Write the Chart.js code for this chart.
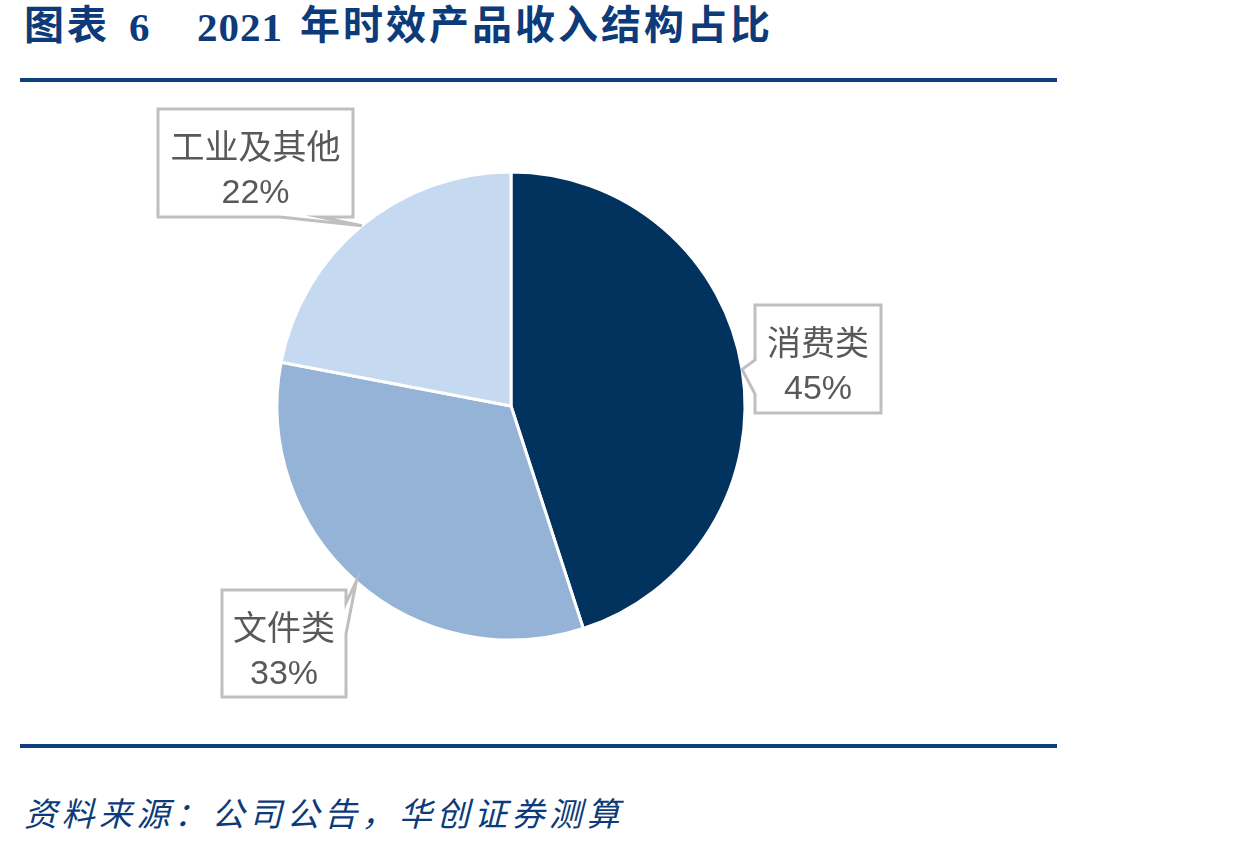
<!DOCTYPE html>
<html>
<head>
<meta charset="utf-8">
<script src="https://cdn.jsdelivr.net/npm/chart.js@4.4.1/dist/chart.umd.min.js"></script>
<style>
  html, body { margin: 0; padding: 0; background: #fff; }
  #wrap { position: relative; width: 1233px; height: 848px; overflow: hidden; }
  .tt { position: absolute; top: 3px; white-space: nowrap; line-height: 50px;
    font-family: "Liberation Serif", "Noto Sans CJK SC", serif; font-weight: bold;
    font-size: 40px; color: #0D3B7A; }
  .tt.cn { letter-spacing: 3px; top: 1px; }
  .tt.num { letter-spacing: 1px; font-size: 41px; top: 2px; }
  .rule { position: absolute; left: 20px; width: 1037px; height: 4px; background: #0E3F80; }
  #footer { position: absolute; left: 24px; top: 788px; white-space: nowrap;
    font-family: "Noto Sans CJK SC", sans-serif; font-style: italic; font-weight: normal;
    font-size: 33px; color: #0D3B7A; letter-spacing: 4.5px; }
  canvas { position: absolute; left: 0; top: 0; }
</style>
</head>
<body>
<div id="wrap">
  <span class="tt cn" style="left:24px">图表</span>
  <span class="tt num" style="left:129px">6</span>
  <span class="tt num" style="left:197px">2021</span>
  <span class="tt cn" style="left:300px">年时效产品收入结构占比</span>
  <div class="rule" style="top:78px"></div>
  <div class="rule" style="top:744px"></div>
  <div id="footer">资料来源：公司公告，华创证券测算</div>
  <canvas id="c" width="1233" height="848"></canvas>
</div>
<script>
const categories = ["消费类", "文件类", "工业及其他"];
const shares = [45, 33, 22];
const sliceColors = ["#02335F", "#95B3D7", "#C5D9F1"];

// callout boxes (left, top, right, bottom) and which edge the tail leaves from
const calloutBoxes = [
  { rect: [755, 305, 881, 413], tail: "left" },
  { rect: [222, 590, 346, 697], tail: "right" },
  { rect: [158, 109, 353, 217], tail: "bottom" }
];

const calloutPlugin = {
  id: "callouts",
  afterDatasetsDraw(chart) {
    const ctx = chart.ctx;
    const meta = chart.getDatasetMeta(0);
    meta.data.forEach((arc, i) => {
      const p = arc.getProps(["x", "y", "startAngle", "endAngle", "outerRadius"], true);
      const mid = (p.startAngle + p.endAngle) / 2;
      const tip = [p.x + Math.cos(mid) * p.outerRadius, p.y + Math.sin(mid) * p.outerRadius];
      const b = calloutBoxes[i];
      const [l, t, r, bt] = b.rect;
      ctx.save();
      ctx.beginPath();
      if (b.tail === "left") {
        ctx.moveTo(l, t); ctx.lineTo(r, t); ctx.lineTo(r, bt); ctx.lineTo(l, bt);
        ctx.lineTo(l, 394); ctx.lineTo(tip[0], tip[1]); ctx.lineTo(l, 360); ctx.closePath();
      } else if (b.tail === "right") {
        ctx.moveTo(l, t); ctx.lineTo(r, t); ctx.lineTo(r, 603); ctx.lineTo(tip[0], tip[1]);
        ctx.lineTo(r, 634); ctx.lineTo(r, bt); ctx.lineTo(l, bt); ctx.closePath();
      } else {
        ctx.moveTo(l, t); ctx.lineTo(r, t); ctx.lineTo(r, bt); ctx.lineTo(320, bt);
        ctx.lineTo(tip[0], tip[1]); ctx.lineTo(280, bt); ctx.lineTo(l, bt); ctx.closePath();
      }
      ctx.fillStyle = "#ffffff";
      ctx.fill();
      ctx.lineWidth = 3;
      ctx.strokeStyle = "#BFBFBF";
      ctx.lineJoin = "miter";
      ctx.stroke();
      const cx = (l + r) / 2;
      const cy = (t + bt) / 2;
      ctx.fillStyle = "#595959";
      ctx.textAlign = "center";
      ctx.textBaseline = "middle";
      ctx.font = '34px "Liberation Sans", "Noto Sans CJK SC", sans-serif';
      ctx.fillText(categories[i], cx, cy - 13);
      ctx.fillText(shares[i] + "%", cx, cy + 31);
      ctx.restore();
    });
  }
};

new Chart(document.getElementById("c"), {
  type: "pie",
  data: {
    labels: categories,
    datasets: [{
      data: shares,
      backgroundColor: sliceColors,
      borderColor: "#ffffff",
      borderWidth: 3,
      radius: 234
    }]
  },
  options: {
    responsive: false,
    animation: false,
    events: [],
    layout: { padding: { left: 261, right: 472, top: 156, bottom: 192 } },
    plugins: { legend: { display: false }, tooltip: { enabled: false } }
  },
  plugins: [calloutPlugin]
});
</script>
</body>
</html>
